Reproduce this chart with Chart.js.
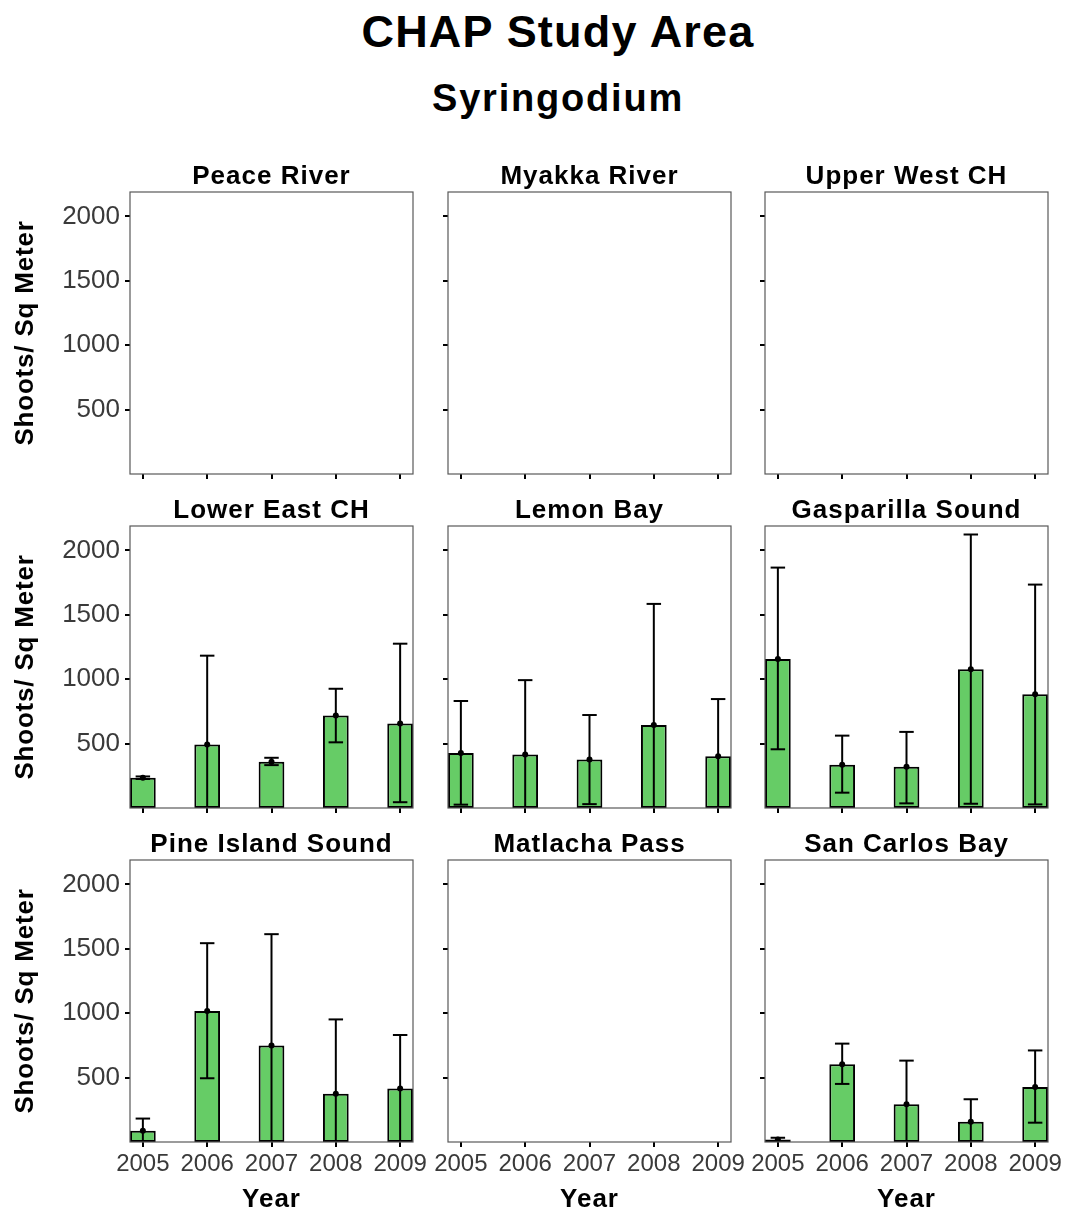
<!DOCTYPE html>
<html>
<head>
<meta charset="utf-8">
<title>CHAP Study Area - Syringodium</title>
<script src="https://cdn.jsdelivr.net/npm/chart.js@4.4.0/dist/chart.umd.min.js"></script>
<style>
body{margin:0;background:#fff;}
#page{position:relative;width:1067px;height:1214px;overflow:hidden;font-family:"Liberation Sans",Arial,sans-serif;}
.head{position:absolute;left:0;width:1116px;text-align:center;font-weight:bold;color:#000;line-height:1;white-space:nowrap;}
canvas{position:absolute;}
</style>
</head>
<body>
<div id="page">
  <div class="head" style="top:9px;font-size:45px;letter-spacing:1.2px">CHAP Study Area</div>
  <div class="head" style="top:79px;font-size:38px;letter-spacing:1.8px">Syringodium</div>
</div>
<script>
const FONT='"Liberation Sans", Arial, sans-serif';
const years=['2005','2006','2007','2008','2009'];
const yTicks=[500,1000,1500,2000];
const regions=['Peace River','Myakka River','Upper West CH','Lower East CH','Lemon Bay','Gasparilla Sound','Pine Island Sound','Matlacha Pass','San Carlos Bay'];

// shoots per sq meter: mean, lower and upper end of the error bar
const lowerEastMean=[235,493,360,719,657];
const lowerEastLow=[225,-200,333,510,45];
const lowerEastHigh=[245,1183,390,926,1276];

const lemonBayMean=[428,415,377,645,402];
const lemonBayLow=[26,-160,30,-295,-40];
const lemonBayHigh=[831,993,722,1585,846];

const gasparillaMean=[1158,336,320,1077,884];
const gasparillaLow=[456,119,36,33,28];
const gasparillaHigh=[1867,562,591,2124,1735];

const pineIslandMean=[87,1017,750,374,415];
const pineIslandLow=[-8,495,-114,-204,-5];
const pineIslandHigh=[182,1544,1614,952,831];

const sanCarlosMean=[20,603,293,157,428];
const sanCarlosLow=[7,451,-46,-18,150];
const sanCarlosHigh=[33,764,632,332,711];

const panelData={
  'Lower East CH':[lowerEastMean,lowerEastLow,lowerEastHigh],
  'Lemon Bay':[lemonBayMean,lemonBayLow,lemonBayHigh],
  'Gasparilla Sound':[gasparillaMean,gasparillaLow,gasparillaHigh],
  'Pine Island Sound':[pineIslandMean,pineIslandLow,pineIslandHigh],
  'San Carlos Bay':[sanCarlosMean,sanCarlosLow,sanCarlosHigh]
};

const colLeft=[130,448,765], rowTop=[192,526,860], PW=283, PH=282;
const Y_MAX=2190;

// error bars, mean dots, panel frame and facet labels
const panelDecor={
  id:'panelDecor',
  afterDatasetsDraw(chart,args,o){
    const {ctx,chartArea:a,scales:{x,y}}=chart;
    if(!o.series) return;
    const [m,lo,hi]=o.series;
    ctx.save();
    ctx.beginPath(); ctx.rect(a.left,a.top,a.right-a.left,a.bottom-a.top); ctx.clip();
    ctx.strokeStyle='#000'; ctx.fillStyle='#000'; ctx.lineWidth=2;
    m.forEach((v,i)=>{
      const px=x.getPixelForValue(i+1);
      const half=x.getPixelForValue(i+1.1125)-px;
      const yl=y.getPixelForValue(lo[i]), yh=y.getPixelForValue(hi[i]);
      ctx.beginPath(); ctx.moveTo(px,yl); ctx.lineTo(px,yh); ctx.stroke();
      [lo[i],hi[i]].forEach(e=>{
        if(e<0) return;
        const py=y.getPixelForValue(e);
        ctx.beginPath(); ctx.moveTo(px-half,py); ctx.lineTo(px+half,py); ctx.stroke();
      });
      ctx.beginPath(); ctx.arc(px,y.getPixelForValue(v),3,0,Math.PI*2); ctx.fill();
    });
    ctx.restore();
  },
  afterDraw(chart,args,o){
    const {ctx,chartArea:a}=chart;
    ctx.save();
    ctx.strokeStyle='#595959'; ctx.lineWidth=1.2;
    ctx.strokeRect(a.left,a.top,a.right-a.left,a.bottom-a.top);
    ctx.fillStyle='#000'; ctx.textAlign='center'; ctx.textBaseline='alphabetic';
    ctx.font='bold 26px '+FONT; ctx.letterSpacing='1px';
    ctx.fillText(o.title,(a.left+a.right)/2,a.top-8);
    if(o.base){ ctx.fillText('Year',(a.left+a.right)/2,a.bottom+65); }
    if(o.lead){
      ctx.translate(a.left-97,(a.top+a.bottom)/2); ctx.rotate(-Math.PI/2);
      ctx.letterSpacing='0.8px';
      ctx.fillText('Shoots/ Sq Meter',0,0);
    }
    ctx.restore();
  }
};

const page=document.getElementById('page');
const tickGrid={drawOnChartArea:false,drawTicks:true,tickLength:5,color:'#000',lineWidth:2,offset:false};

function makePanel(idx){
  const col=idx%3,row=Math.floor(idx/3);
  const name=regions[idx], series=panelData[name]||null;
  const lead=col===0, base=row===2;
  const wy=lead?80:10, padL=lead?50:20, padT=45, padR=30, hx=base?40:10, padB=base?35:20;
  const W=PW+padL+wy+padR, H=PH+padT+hx+padB;
  const cv=document.createElement('canvas');
  cv.width=W; cv.height=H;
  cv.style.left=(colLeft[col]-padL-wy)+'px'; cv.style.top=(rowTop[row]-padT)+'px';
  cv.style.width=W+'px'; cv.style.height=H+'px';
  page.appendChild(cv);
  new Chart(cv,{
    type:'bar',
    data:{datasets:[{
      data:series?years.map((_,i)=>({x:i+1,y:series[0][i]})):[],
      backgroundColor:'#66cc66',borderColor:'#000',borderWidth:2,borderSkipped:false,
      barPercentage:0.4,categoryPercentage:1
    }]},
    options:{
      responsive:false,animation:false,
      layout:{padding:{left:padL,top:padT,right:padR,bottom:padB}},
      plugins:{legend:{display:false},tooltip:{enabled:false},title:{display:false},
        panelDecor:{title:name,series,lead,base}},
      scales:{
        x:{type:'linear',min:0.8,max:5.2,offset:false,
          afterBuildTicks:s=>{s.ticks=years.map((_,i)=>({value:i+1}));},
          afterFit:s=>{s.height=hx;},
          grid:tickGrid,border:{display:false},
          ticks:{display:base,padding:3,color:'#3a3a3a',autoSkip:false,maxRotation:0,
            font:{family:FONT,size:24},callback:v=>years[Math.round(v)-1]}},
        y:{min:0,max:Y_MAX,
          afterBuildTicks:s=>{s.ticks=yTicks.map(v=>({value:v}));},
          afterFit:s=>{s.width=wy;},
          grid:tickGrid,border:{display:false},
          ticks:{display:lead,padding:5,color:'#3a3a3a',font:{family:FONT,size:26},callback:v=>String(v)}}
      }
    },
    plugins:[panelDecor]
  });
}

regions.forEach((_,i)=>makePanel(i));
</script>
</body>
</html>
